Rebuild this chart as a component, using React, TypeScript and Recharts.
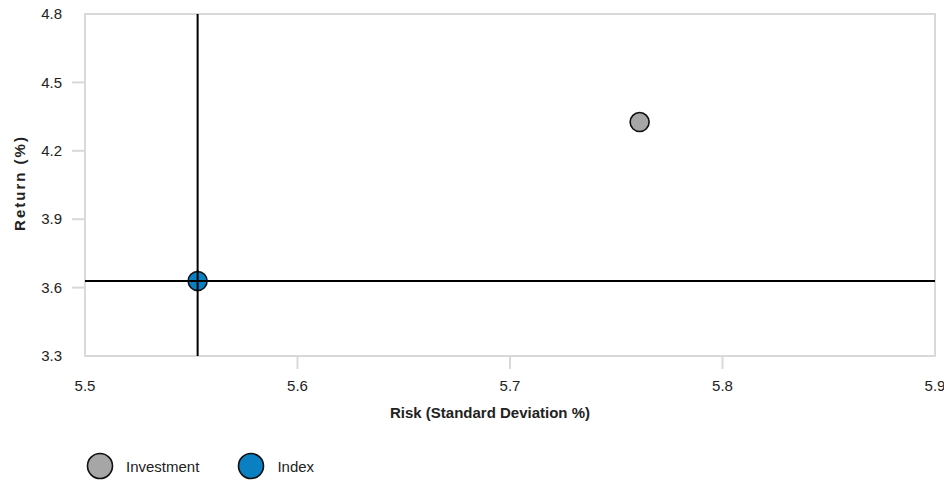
import React from 'react';
import { ScatterChart, Scatter, XAxis, YAxis, ReferenceLine, ReferenceArea } from 'recharts';

const seriesNames = ['Investment', 'Index'];
const riskValues = [5.761, 5.553];
const returnValues = [4.326, 3.629];
const seriesColors = ['#a6a6a6', '#0a7fc1'];

const xTicks = [5.5, 5.6, 5.7, 5.8, 5.9];
const yTicks = [3.3, 3.6, 3.9, 4.2, 4.5, 4.8];

const FONT = '"Liberation Sans", Arial, sans-serif';
const GRID = '#d9d9d9';
const R = 9.5;

// index point sits under the crosshair lines, so redraw the cross over it
const Dot = (props: any) => (
  <g>
    <circle cx={props.cx} cy={props.cy} r={R} fill={props.fill} stroke="#111" strokeWidth={1.6} />
    {props.cross && (
      <>
        <line x1={props.cx - R - 1} x2={props.cx + R + 1} y1={props.cy} y2={props.cy} stroke="#000" strokeWidth={2} />
        <line x1={props.cx} x2={props.cx} y1={props.cy - R - 1} y2={props.cy + R + 1} stroke="#000" strokeWidth={2} />
      </>
    )}
  </g>
);

const XTick = ({ x, y, payload, index }: any) => {
  const inner = index > 0 && index < xTicks.length - 1;
  return (
    <g>
      {inner && <line x1={x} x2={x} y1={y} y2={y + 13} stroke={GRID} strokeWidth={2} />}
      <text x={x} y={y + 35} textAnchor="middle" fontSize={15} fontFamily={FONT} fill="#222">
        {Number(payload.value).toFixed(1)}
      </text>
    </g>
  );
};

const YTick = ({ x, y, payload, index }: any) => {
  const inner = index > 0 && index < yTicks.length - 1;
  return (
    <g>
      {inner && <line x1={x - 13} x2={x} y1={y} y2={y} stroke={GRID} strokeWidth={2} />}
      <text x={x - 23} y={y} dy="0.35em" textAnchor="end" fontSize={15} fontFamily={FONT} fill="#222">
        {Number(payload.value).toFixed(1)}
      </text>
    </g>
  );
};

export default function App() {
  const data = seriesNames.map((name, i) => ({ name, risk: riskValues[i], ret: returnValues[i] }));

  return (
    <div style={{ position: 'absolute', left: 0, top: 0, width: 944, height: 480, background: '#fff' }}>
      <ScatterChart width={944} height={480} margin={{ top: 14, right: 9, left: 0, bottom: 0 }}>
        <ReferenceArea
          x1={xTicks[0]}
          x2={xTicks[xTicks.length - 1]}
          y1={yTicks[0]}
          y2={yTicks[yTicks.length - 1]}
          fill="none"
          stroke={GRID}
          strokeWidth={2}
          fillOpacity={0}
          strokeOpacity={1}
        />
        <XAxis
          type="number"
          dataKey="risk"
          domain={[5.5, 5.9]}
          ticks={xTicks}
          height={124}
          axisLine={false}
          tickLine={false}
          tickSize={0}
          tickMargin={0}
          tick={<XTick />}
          interval={0}
          label={{
            content: () => (
              <text x={490} y={418} textAnchor="middle" fontSize={15} fontWeight="bold" fontFamily={FONT} fill="#222">
                Risk (Standard Deviation %)
              </text>
            ),
          }}
        />
        <YAxis
          type="number"
          dataKey="ret"
          domain={[3.3, 4.8]}
          ticks={yTicks}
          width={85}
          axisLine={false}
          tickLine={false}
          tickSize={0}
          tickMargin={0}
          tick={<YTick />}
          interval={0}
          label={{
            content: () => (
              <text
                x={20}
                y={183}
                transform="rotate(-90 20 183)"
                dy="0.35em"
                textAnchor="middle"
                fontSize={15}
                fontWeight="bold"
                letterSpacing="2px"
                fontFamily={FONT}
                fill="#222"
              >
                Return (%)
              </text>
            ),
          }}
        />
        <ReferenceLine x={riskValues[1]} stroke="#000" strokeWidth={2} />
        <ReferenceLine y={returnValues[1]} stroke="#000" strokeWidth={2} />
        {data.map((d, i) => (
          <Scatter
            key={d.name}
            name={d.name}
            data={[d]}
            fill={seriesColors[i]}
            shape={<Dot cross={i === 1} />}
            isAnimationActive={false}
          />
        ))}
      </ScatterChart>
      <div style={{ position: 'absolute', left: 86, top: 452, display: 'flex', fontFamily: FONT, fontSize: 15, color: '#222' }}>
        {seriesNames.map((name, i) => (
          <div key={name} style={{ display: 'flex', alignItems: 'center', marginRight: i === 0 ? 38 : 0 }}>
            <svg width={28} height={28} style={{ marginRight: 12 }}>
              <circle cx={14} cy={14} r={12.5} fill={seriesColors[i]} stroke="#111" strokeWidth={1.6} />
            </svg>
            <span>{name}</span>
          </div>
        ))}
      </div>
    </div>
  );
}
